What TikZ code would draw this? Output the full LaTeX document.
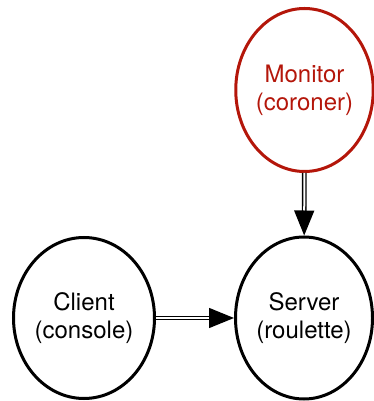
\documentclass[tikz,border=0pt]{standalone}
\usepackage{fontspec}
\setmainfont{TeX Gyre Heros}
\usetikzlibrary{arrows.meta,shapes.geometric}

\definecolor{monred}{RGB}{180,22,10}

\tikzset{
	proc/.style={ellipse, draw, line width=3pt, inner sep=0pt, align=center,
		font=\fontsize{24}{28}\selectfont},
	pipe/.style={double, double distance=2pt, line width=1.4pt,
		-{Triangle[length=25pt,width=20pt]}}
}

\begin{document}
\begin{tikzpicture}[x=1pt,y=1pt]
				\useasboundingbox (0,0) rectangle (374,401);

				\node[proc, minimum width=141pt, minimum height=161pt] (cli) at (84,83) {Client\\(console)};
				\node[proc, minimum width=137pt, minimum height=162pt] (srv) at (304,83) {Server\\(roulette)};
				\node[proc, color=monred, minimum width=136pt, minimum height=163pt] (mon) at (304.5,311) {Monitor\\(coroner)};

				\draw[pipe] (mon) -- (srv);
				\draw[pipe] (cli) -- (srv);
			\end{tikzpicture}
\end{document}
